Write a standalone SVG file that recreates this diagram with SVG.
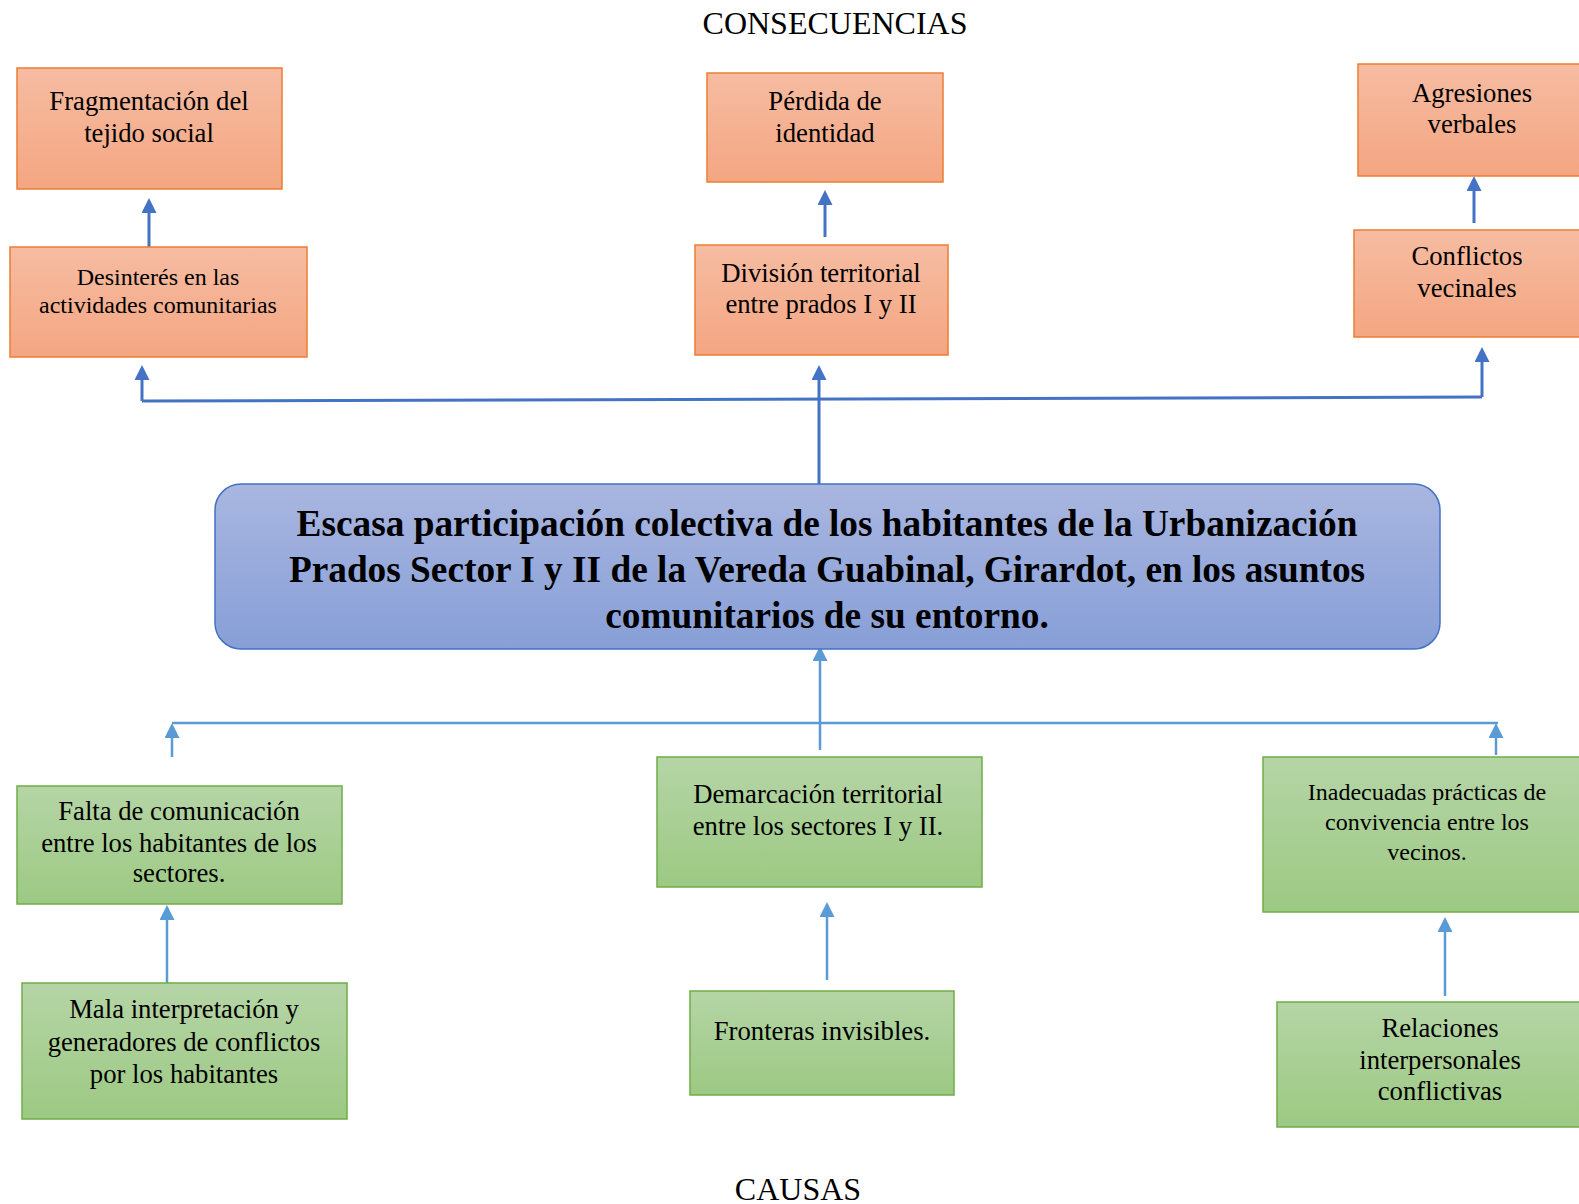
<svg xmlns="http://www.w3.org/2000/svg" width="1579" height="1204" viewBox="0 0 1579 1204">
<defs>
<linearGradient id="gOrange" x1="0" y1="0" x2="0" y2="1">
<stop offset="0" stop-color="#F6BCA2"/>
<stop offset="1" stop-color="#F4A682"/>
</linearGradient>
<linearGradient id="gGreen" x1="0" y1="0" x2="0" y2="1">
<stop offset="0" stop-color="#B5D5A6"/>
<stop offset="1" stop-color="#9DC983"/>
</linearGradient>
<linearGradient id="gBlue" x1="0" y1="0" x2="0" y2="1">
<stop offset="0" stop-color="#A9B6E0"/>
<stop offset="1" stop-color="#879FD7"/>
</linearGradient>
<marker id="arrDark" viewBox="0 0 15 15" markerUnits="userSpaceOnUse" markerWidth="15" markerHeight="15" refX="3" refY="7.5" orient="auto">
<path d="M0,0 L15,7.5 L0,15 z" fill="#4472C4"/>
</marker>
<marker id="arrLight" viewBox="0 0 15 15" markerUnits="userSpaceOnUse" markerWidth="15" markerHeight="15" refX="3" refY="7.5" orient="auto">
<path d="M0,0 L15,7.5 L0,15 z" fill="#5B9BD5"/>
</marker>
</defs>
<style>
text { font-family: "Liberation Serif", "Times New Roman", serif; fill: #000; text-anchor: middle; }
.title { font-size: 32px; }
.t26 { font-size: 26.7px; }
.t24 { font-size: 24px; }
.main { font-size: 37.3px; font-weight: bold; }
.cons { fill: url(#gOrange); stroke: #ED7D31; stroke-width: 1.5; }
.cause { fill: url(#gGreen); stroke: #70AD47; stroke-width: 1.5; }
.core { fill: url(#gBlue); stroke: #4472C4; stroke-width: 1.5; }
.cd { fill: none; stroke: #4472C4; stroke-width: 3; }
.cda { fill: none; stroke: #4472C4; stroke-width: 3; marker-end: url(#arrDark); }
.cl { fill: none; stroke: #5B9BD5; stroke-width: 2.5; }
.cla { fill: none; stroke: #5B9BD5; stroke-width: 2.5; marker-end: url(#arrLight); }
</style>
<rect width="1579" height="1204" fill="#ffffff"/>

<text class="title" x="835" y="34">CONSECUENCIAS</text>
<text class="title" x="798" y="1200">CAUSAS</text>

<g id="connectors">
<path class="cd" d="M142,401 L1482,397"/>
<path class="cda" d="M142,401 L142,377"/>
<path class="cda" d="M819,485 L819,377"/>
<path class="cda" d="M1482,397 L1482,359"/>
<path class="cda" d="M149,247 L149,210"/>
<path class="cda" d="M825,237 L825,202"/>
<path class="cda" d="M1474,223 L1474,188"/>
<path class="cl" d="M172,723 L1498,723"/>
<path class="cla" d="M172,757 L172,735"/>
<path class="cla" d="M1496,755 L1496,735"/>
<path class="cla" d="M820,750 L820,658"/>
<path class="cla" d="M167,983 L167,917"/>
<path class="cla" d="M827,980 L827,914"/>
<path class="cla" d="M1445,996 L1445,929"/>
</g>

<g id="fragmentacion">
<rect class="cons" x="17" y="68" width="265" height="121"/>
<text class="t26" x="149" y="110">Fragmentación del</text>
<text class="t26" x="149" y="142">tejido social</text>
</g>
<g id="perdida">
<rect class="cons" x="707" y="73" width="236" height="109"/>
<text class="t26" x="825" y="110">Pérdida de</text>
<text class="t26" x="825" y="142">identidad</text>
</g>
<g id="agresiones">
<rect class="cons" x="1358" y="64" width="240" height="112"/>
<text class="t26" x="1472" y="102">Agresiones</text>
<text class="t26" x="1472" y="133">verbales</text>
</g>
<g id="desinteres">
<rect class="cons" x="10" y="247" width="297" height="110"/>
<text class="t24" x="158" y="285">Desinterés en las</text>
<text class="t24" x="158" y="313">actividades comunitarias</text>
</g>
<g id="division">
<rect class="cons" x="695" y="245" width="253" height="110"/>
<text class="t26" x="821" y="282">División territorial</text>
<text class="t26" x="821" y="313">entre prados I y II</text>
</g>
<g id="conflictos">
<rect class="cons" x="1354" y="230" width="240" height="107"/>
<text class="t26" x="1467" y="265">Conflictos</text>
<text class="t26" x="1467" y="297">vecinales</text>
</g>

<g id="problema">
<rect class="core" x="215" y="484" width="1225" height="165" rx="26" ry="26"/>
<text class="main" x="827" y="536">Escasa participación colectiva de los habitantes de la Urbanización</text>
<text class="main" x="827" y="582">Prados Sector I y II de la Vereda Guabinal, Girardot, en los asuntos</text>
<text class="main" x="827" y="628">comunitarios de su entorno.</text>
</g>

<g id="falta">
<rect class="cause" x="17" y="786" width="325" height="118"/>
<text class="t26" x="179" y="820">Falta de comunicación</text>
<text class="t26" x="179" y="852">entre los habitantes de los</text>
<text class="t26" x="179" y="882">sectores.</text>
</g>
<g id="demarcacion">
<rect class="cause" x="657" y="757" width="325" height="130"/>
<text class="t26" x="818" y="803">Demarcación territorial</text>
<text class="t26" x="818" y="835">entre los sectores I y II.</text>
</g>
<g id="inadecuadas">
<rect class="cause" x="1263" y="757" width="330" height="155"/>
<text class="t24" x="1427" y="800">Inadecuadas prácticas de</text>
<text class="t24" x="1427" y="830">convivencia entre los</text>
<text class="t24" x="1427" y="860">vecinos.</text>
</g>
<g id="mala">
<rect class="cause" x="22" y="983" width="325" height="136"/>
<text class="t26" x="184" y="1018">Mala interpretación y</text>
<text class="t26" x="184" y="1051">generadores de conflictos</text>
<text class="t26" x="184" y="1083">por los habitantes</text>
</g>
<g id="fronteras">
<rect class="cause" x="690" y="991" width="264" height="104"/>
<text class="t26" x="822" y="1040">Fronteras invisibles.</text>
</g>
<g id="relaciones">
<rect class="cause" x="1277" y="1002" width="330" height="125"/>
<text class="t26" x="1440" y="1037">Relaciones</text>
<text class="t26" x="1440" y="1069">interpersonales</text>
<text class="t26" x="1440" y="1100">conflictivas</text>
</g>
</svg>
